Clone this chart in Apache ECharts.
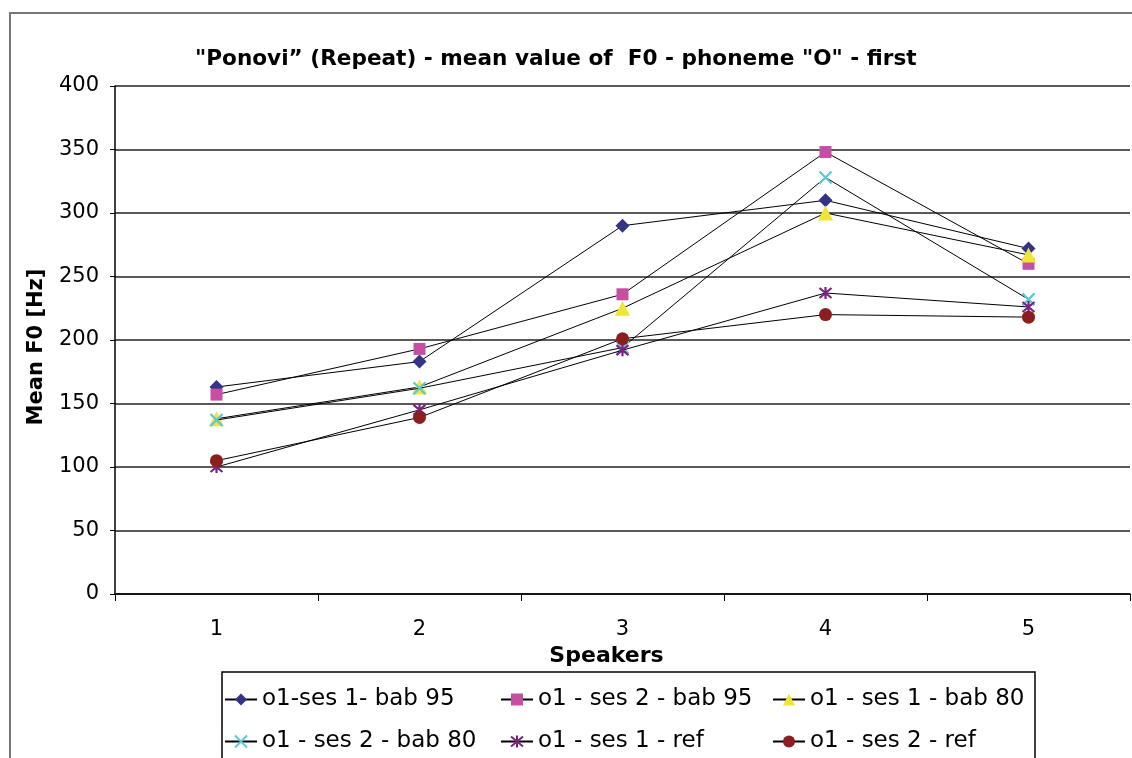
<!DOCTYPE html>
<html>
<head>
<meta charset="utf-8">
<title>Ponovi - mean F0</title>
<script src="https://cdn.jsdelivr.net/npm/echarts@6/dist/echarts.min.js"></script>
<style>
    html, body { margin: 0; padding: 0; background: #fff; }
    #chart { width: 1132px; height: 758px; }
</style>
</head>
<body>
<div id="chart"></div>
<script>
'use strict';

// 数据
const speakers = ['1', '2', '3', '4', '5'];
const seriesNames = [
    'o1-ses 1- bab 95',
    'o1 - ses 2 - bab 95',
    'o1 - ses 1 - bab 80',
    'o1 - ses 2 - bab 80',
    'o1 - ses 1 - ref',
    'o1 - ses 2 - ref'
];
const ses1Bab95 = [163, 183, 290, 310, 272];
const ses2Bab95 = [157, 193, 236, 348, 260];
const ses1Bab80 = [138, 163, 225, 300, 267];
const ses2Bab80 = [137, 162, 194, 328, 232];
const ses1Ref = [100, 145, 192, 237, 226];
const ses2Ref = [105, 139, 201, 220, 218];
const yTicks = [0, 50, 100, 150, 200, 250, 300, 350, 400];

const font = '"DejaVu Sans", Arial, sans-serif';

// 标记样式
const crossPath = 'path://M0,0L10,10M10,0L0,10';
const starPath = 'path://M0,0L10,10M10,0L0,10M5,-1L5,11';
const markers = [
    { symbol: 'diamond', size: 14, color: '#333388', stroke: false },
    { symbol: 'rect', size: 12, color: '#C64FA3', stroke: false },
    { symbol: 'triangle', size: 15, color: '#EFE535', stroke: false },
    { symbol: crossPath, size: 12, color: '#5BC8DA', stroke: true },
    { symbol: starPath, size: 12, color: '#7B2280', stroke: true },
    { symbol: 'circle', size: 13, color: '#8B1E1E', stroke: false }
];
const values = [ses1Bab95, ses2Bab95, ses1Bab80, ses2Bab80, ses1Ref, ses2Ref];

let series = values.map((v, i) => {
    let m = markers[i];
    return {
        name: seriesNames[i],
        type: 'line',
        data: v,
        symbol: m.symbol,
        symbolSize: m.size,
        showAllSymbol: true,
        lineStyle: { color: '#000', width: 1 },
        itemStyle: m.stroke
            ? { color: m.color, borderColor: m.color, borderWidth: 2.2 }
            : { color: m.color, borderWidth: 0 },
        emphasis: { disabled: true },
        z: 2 + i
    };
});

// 图例位置 (3列 x 2行)
const legendLeft = [224, 500, 772];
const legendTop = [688, 730];
let legends = seriesNames.map((name, i) => ({
    data: [name],
    left: legendLeft[i % 3],
    top: legendTop[Math.floor(i / 3)],
    itemWidth: 32,
    itemHeight: 15,
    itemGap: 0,
    padding: 0,
    selectedMode: false,
    textStyle: { fontFamily: font, fontSize: 23, color: '#000' }
}));

const chart = echarts.init(document.getElementById('chart'), null, { renderer: 'canvas' });

let option = {
    backgroundColor: '#fff',
    animation: false,
    title: {
        text: '"Ponovi\u201d (Repeat) - mean value of  F0 - phoneme "O" - first',
        left: 190,
        top: 43,
        textStyle: { fontFamily: font, fontSize: 21.6, fontWeight: 'bold', color: '#000' }
    },
    legend: legends,
    graphic: [
        {
            type: 'rect',
            shape: { x: 10, y: 13, width: 1140, height: 760 },
            style: { fill: 'none', stroke: '#777', lineWidth: 2 },
            silent: true
        },
        {
            type: 'rect',
            shape: { x: 222, y: 672, width: 813, height: 100 },
            style: { fill: 'none', stroke: '#000', lineWidth: 1.5 },
            silent: true
        }
    ],
    grid: { left: 115, right: 2, top: 86, bottom: 164, containLabel: false },
    xAxis: {
        type: 'category',
        data: speakers,
        boundaryGap: true,
        name: 'Speakers',
        nameLocation: 'middle',
        nameGap: 50,
        nameTextStyle: {
            fontFamily: font, fontSize: 22, fontWeight: 'bold', color: '#000',
            padding: [0, 32, 0, 0]
        },
        axisLine: { lineStyle: { color: '#000', width: 1.5 } },
        axisTick: { show: true, length: 7, lineStyle: { color: '#000' } },
        axisLabel: { fontFamily: font, fontSize: 21, color: '#000', margin: 25 },
        splitLine: { show: false }
    },
    yAxis: {
        type: 'value',
        min: yTicks[0],
        max: yTicks[yTicks.length - 1],
        interval: 50,
        name: 'Mean F0 [Hz]',
        nameLocation: 'middle',
        nameGap: 68,
        nameTextStyle: {
            fontFamily: font, fontSize: 21, fontWeight: 'bold', color: '#000',
            padding: [0, 14, 0, 0]
        },
        axisLine: { show: true, lineStyle: { color: '#000', width: 1.5 } },
        axisTick: { show: true, length: 5, lineStyle: { color: '#000' } },
        axisLabel: { fontFamily: font, fontSize: 21, color: '#000', margin: 16 },
        splitLine: { show: true, lineStyle: { color: '#222', width: 1.5 } }
    },
    series: series
};

chart.setOption(option);
</script>
</body>
</html>
